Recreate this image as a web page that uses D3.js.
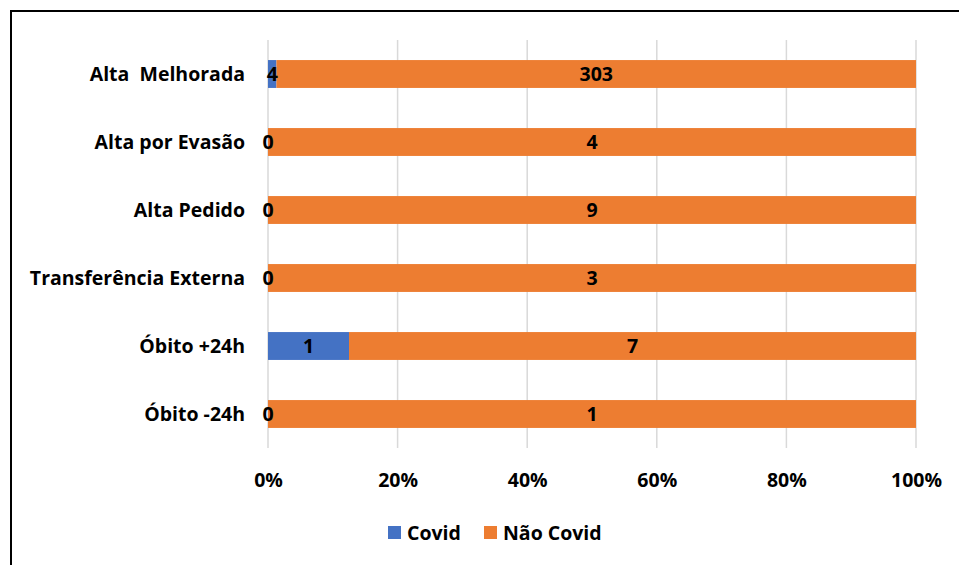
<!DOCTYPE html>
<html>
<head>
<meta charset="utf-8">
<script src="https://cdn.jsdelivr.net/npm/d3@7/dist/d3.min.js"></script>
<style>
  html, body { margin: 0; padding: 0; background: #fff; }
  svg { display: block; }
  text { font-family: "Open Sans", sans-serif; font-weight: bold; fill: #000; white-space: pre; }
</style>
</head>
<body>
<svg id="chart" width="959" height="565"></svg>
<script>
// Discharge outcomes, split by Covid status (counts; bars shown as share of row total)
const categories = ["Alta  Melhorada", "Alta por Evasão", "Alta Pedido", "Transferência Externa", "Óbito +24h", "Óbito -24h"];
const covid      = [4, 0, 0, 0, 1, 0];
const naoCovid   = [303, 4, 9, 3, 7, 1];
const seriesNames = ["Covid", "Não Covid"];
const seriesColors = ["#4472C4", "#ED7D31"];
const tickValues = [0, 0.2, 0.4, 0.6, 0.8, 1.0];

const FONT = "'Open Sans', sans-serif";
const FS = 19.5;

const svg = d3.select("#chart");

// outer chart frame
svg.append("rect")
  .attr("x", 11).attr("y", 11)
  .attr("width", 960).attr("height", 570)
  .attr("fill", "none").attr("stroke", "#000").attr("stroke-width", 2);

const x = d3.scaleLinear().domain([0, 1]).range([268, 916]);
const y = d3.scaleBand().domain(categories).range([40, 448]).paddingInner(0.59).paddingOuter(0.295);

// vertical gridlines
svg.append("g").selectAll("line").data(tickValues).join("line")
  .attr("x1", d => x(d)).attr("x2", d => x(d))
  .attr("y1", 40).attr("y2", 448)
  .attr("stroke", "#d9d9d9").attr("stroke-width", 1.5);

// x axis tick labels
const xAxis = d3.axisBottom(x).tickValues(tickValues).tickFormat(d3.format(".0%")).tickSize(0).tickPadding(0);
const gx = svg.append("g").attr("transform", "translate(0,480)").call(xAxis);
gx.select(".domain").remove();
gx.selectAll("text").attr("font-size", FS).attr("y", 0).attr("dy", "0.35em")
  .style("font-family", FONT).style("font-weight", "bold").attr("fill", "#000");

// y axis category labels
const yAxis = d3.axisLeft(y).tickSize(0).tickPadding(0);
const gy = svg.append("g").attr("transform", "translate(245,0)").call(yAxis);
gy.select(".domain").remove();
gy.selectAll("text").attr("font-size", FS).attr("dy", "0.35em")
  .style("font-family", FONT).style("font-weight", "bold").style("white-space", "pre").attr("fill", "#000");

// stacked shares
const rows = categories.map((c, i) => {
  const total = covid[i] + naoCovid[i];
  return { cat: c, vals: [covid[i], naoCovid[i]], total };
});

const segs = [];
rows.forEach(r => {
  let acc = 0;
  r.vals.forEach((v, si) => {
    const x0 = acc / r.total, x1 = (acc + v) / r.total;
    segs.push({ cat: r.cat, s: si, v, x0, x1 });
    acc += v;
  });
});

svg.append("g").selectAll("rect").data(segs).join("rect")
  .attr("x", d => x(d.x0))
  .attr("y", d => y(d.cat))
  .attr("width", d => x(d.x1) - x(d.x0))
  .attr("height", y.bandwidth())
  .attr("fill", d => seriesColors[d.s]);

svg.append("g").selectAll("text").data(segs).join("text")
  .attr("x", d => (x(d.x0) + x(d.x1)) / 2)
  .attr("y", d => y(d.cat) + y.bandwidth() / 2)
  .attr("dy", "0.35em")
  .attr("text-anchor", "middle")
  .attr("font-size", FS)
  .text(d => d.v);

// legend
const legend = svg.append("g");
const legendX = [388, 484];
seriesNames.forEach((n, i) => {
  legend.append("rect").attr("x", legendX[i]).attr("y", 526).attr("width", 13).attr("height", 13).attr("fill", seriesColors[i]);
  legend.append("text").attr("x", legendX[i] + 19).attr("y", 533).attr("dy", "0.35em")
    .attr("font-size", FS).text(n);
});
</script>
</body>
</html>
